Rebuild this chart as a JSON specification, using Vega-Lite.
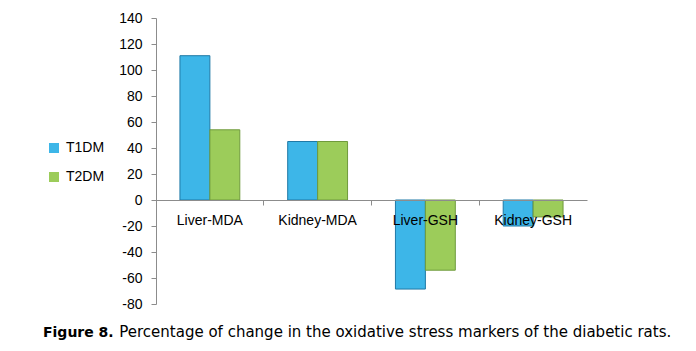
{
  "$schema": "https://vega.github.io/schema/vega-lite/v6.json",
  "width": 431,
  "height": 286,
  "autosize": {"type": "none"},
  "padding": {"left": 156, "top": 18, "right": 109, "bottom": 47},
  "background": "white",
  "title": {
    "text": "Figure 8.",
    "subtitle": "\u200b\u00a0\u00a0\u00a0\u00a0\u00a0\u00a0\u00a0\u00a0\u00a0\u00a0\u00a0\u00a0\u00a0\u00a0\u00a0\u00a0Percentage of change in the oxidative stress markers of the diabetic rats.",
    "orient": "bottom",
    "anchor": "start",
    "frame": "group",
    "dx": -113,
    "offset": 15,
    "font": "DejaVu Sans",
    "fontSize": 14,
    "fontWeight": "bold",
    "color": "black",
    "subtitleFont": "DejaVu Sans",
    "subtitleFontSize": 15,
    "subtitleColor": "black",
    "subtitlePadding": -15
  },
  "data": {
    "values": [
      {"marker": "Liver-MDA", "group": "T1DM", "change": 111},
      {"marker": "Liver-MDA", "group": "T2DM", "change": 54},
      {"marker": "Kidney-MDA", "group": "T1DM", "change": 45},
      {"marker": "Kidney-MDA", "group": "T2DM", "change": 45},
      {"marker": "Liver-GSH", "group": "T1DM", "change": -68.5},
      {"marker": "Liver-GSH", "group": "T2DM", "change": -54},
      {"marker": "Kidney-GSH", "group": "T1DM", "change": -20},
      {"marker": "Kidney-GSH", "group": "T2DM", "change": -13}
    ]
  },
  "mark": {"type": "bar", "strokeWidth": 1},
  "encoding": {
    "x": {
      "field": "marker",
      "type": "nominal",
      "sort": ["Liver-MDA", "Kidney-MDA", "Liver-GSH", "Kidney-GSH"],
      "scale": {"paddingInner": 0, "paddingOuter": 0},
      "axis": {
        "title": null,
        "offset": -104,
        "zindex": 1,
        "labelAngle": 0,
        "bandPosition": 0,
        "tickExtra": true,
        "labelFont": "Liberation Sans",
        "labelFontSize": 14,
        "labelColor": "black",
        "labelPadding": 8,
        "tickSize": 5,
        "tickColor": "#8c8c8c",
        "domainColor": "#8c8c8c"
      }
    },
    "xOffset": {
      "field": "group",
      "type": "nominal",
      "scale": {"paddingInner": 0, "paddingOuter": 0.8}
    },
    "y": {
      "field": "change",
      "type": "quantitative",
      "scale": {"domain": [-80, 140], "nice": false},
      "axis": {
        "title": null,
        "values": [-80, -60, -40, -20, 0, 20, 40, 60, 80, 100, 120, 140],
        "labelExpr": "'' + datum.value",
        "grid": false,
        "labelFont": "Liberation Sans",
        "labelFontSize": 14,
        "labelColor": "black",
        "labelPadding": 9,
        "tickSize": 5,
        "tickColor": "#8c8c8c",
        "domainColor": "#8c8c8c"
      }
    },
    "color": {
      "field": "group",
      "type": "nominal",
      "scale": {"domain": ["T1DM", "T2DM"], "range": ["#3db6e8", "#9ccc5a"]},
      "legend": {
        "title": null,
        "orient": "none",
        "legendX": -109,
        "legendY": 123,
        "padding": 0,
        "symbolType": "square",
        "symbolSize": 100,
        "symbolStrokeWidth": 0,
        "labelFont": "Liberation Sans",
        "labelFontSize": 14,
        "labelColor": "black",
        "labelOffset": 5,
        "rowPadding": 15
      }
    },
    "stroke": {
      "field": "group",
      "type": "nominal",
      "scale": {"domain": ["T1DM", "T2DM"], "range": ["#1f79a6", "#6f9a3c"]},
      "legend": null
    }
  },
  "config": {"view": {"stroke": null}}
}
